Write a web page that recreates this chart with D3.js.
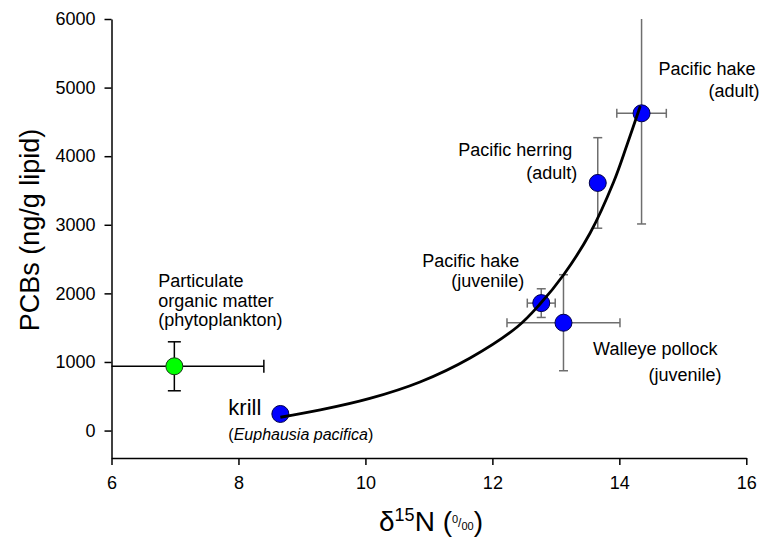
<!DOCTYPE html>
<html>
<head>
<meta charset="utf-8">
<script src="https://cdn.jsdelivr.net/npm/d3@7"></script>
<style>
  body { margin: 0; background: #fff; }
  svg { display: block; font-family: "Liberation Sans", Arial, sans-serif; }
</style>
</head>
<body>
<div id="chart"></div>
<script>
// d15N vs PCB data, one entry per group
const groups = ['POM', 'krill', 'hakeJuv', 'walleye', 'herring', 'hakeAdult'];
const d15N = [6.99, 8.66, 12.77, 13.12, 13.66, 14.35];
const pcbs = [937, 242, 1858, 1572, 3610, 4625];
const d15NErr = [1.41, 0, 0.22, 0.89, 0, 0.39];
const pcbsErr = [357, 0, 209, 700, 660, 1613];

// fitted curve
const fitX = [8.66, 9.29, 10.07, 10.86, 11.65, 12.39, 12.75, 13.12, 13.54, 13.91, 14.12, 14.33];
const fitY = [194, 300, 468, 708, 1058, 1510, 1845, 2268, 2880, 3624, 4163, 4732];

const xTicks = [6, 8, 10, 12, 14, 16];
const yTicks = [0, 1000, 2000, 3000, 4000, 5000, 6000];

const W = 772, H = 537;
const svg = d3.select('#chart').append('svg')
  .attr('width', W)
  .attr('height', H);

const x = d3.scaleLinear().domain([6, 16]).range([111.5, 746.3]);
const y = d3.scaleLinear().domain([-400, 6000]).range([458, 19]);

// Axes
const xAxis = svg.append('g')
  .attr('transform', `translate(0,${y.range()[0]})`)
  .call(d3.axisBottom(x).tickValues(xTicks).tickFormat(d3.format('d')).tickSize(7).tickSizeOuter(0).tickPadding(11));

const yAxis = svg.append('g')
  .attr('transform', `translate(${x.range()[0]},0)`)
  .call(d3.axisLeft(y).tickValues(yTicks).tickFormat(d3.format('d')).tickSize(7).tickSizeOuter(0).tickPadding(9));

[xAxis, yAxis].forEach(g => {
  g.select('.domain').attr('stroke', '#000').attr('stroke-width', 1.5);
  g.selectAll('.tick line').attr('stroke', '#000').attr('stroke-width', 1.5);
  g.selectAll('.tick text')
    .attr('fill', '#000')
    .style('font-size', '18px')
    .style('font-family', '"Liberation Sans", Arial, sans-serif');
});

// Axis titles
svg.append('text')
  .attr('transform', 'translate(39,230) rotate(-90)')
  .attr('text-anchor', 'middle')
  .style('font-size', '27px')
  .text('PCBs (ng/g lipid)');

const xt = svg.append('text')
  .attr('x', 379)
  .attr('y', 531)
  .style('font-size', '28px');
xt.append('tspan').text('\u03B4');
xt.append('tspan').attr('dy', -10).style('font-size', '18px').text('15');
xt.append('tspan').attr('dy', 10).text('N (');
xt.append('tspan').attr('dy', -8).style('font-size', '11px').text('0');
xt.append('tspan').attr('dy', 4).style('font-size', '12px').text('/');
xt.append('tspan').attr('dy', 3).style('font-size', '11px').text('00');
xt.append('tspan').attr('dy', 1).text(')');

// Error bars
const xmin = x.domain()[0], ymax = y.domain()[1];
const bars = svg.append('g');
groups.forEach((g, i) => {
  const col = i === 0 ? '#000' : '#6e6e6e';
  const cap = i === 0 ? 6.5 : 4.5;
  const px = x(d15N[i]), py = y(pcbs[i]);
  if (pcbsErr[i] > 0) {
    const top = Math.min(pcbs[i] + pcbsErr[i], ymax);
    const bot = pcbs[i] - pcbsErr[i];
    bars.append('line').attr('x1', px).attr('x2', px).attr('y1', y(top)).attr('y2', y(bot))
      .attr('stroke', col).attr('stroke-width', 1.5);
    if (pcbs[i] + pcbsErr[i] <= ymax) {
      bars.append('line').attr('x1', px - cap).attr('x2', px + cap).attr('y1', y(top)).attr('y2', y(top))
        .attr('stroke', col).attr('stroke-width', 1.5);
    }
    bars.append('line').attr('x1', px - cap).attr('x2', px + cap).attr('y1', y(bot)).attr('y2', y(bot))
      .attr('stroke', col).attr('stroke-width', 1.5);
  }
  if (d15NErr[i] > 0) {
    const lo = Math.max(d15N[i] - d15NErr[i], xmin);
    const hi = d15N[i] + d15NErr[i];
    bars.append('line').attr('x1', x(lo)).attr('x2', x(hi)).attr('y1', py).attr('y2', py)
      .attr('stroke', col).attr('stroke-width', 1.5);
    if (d15N[i] - d15NErr[i] >= xmin) {
      bars.append('line').attr('x1', x(lo)).attr('x2', x(lo)).attr('y1', py - cap).attr('y2', py + cap)
        .attr('stroke', col).attr('stroke-width', 1.5);
    }
    bars.append('line').attr('x1', x(hi)).attr('x2', x(hi)).attr('y1', py - cap).attr('y2', py + cap)
      .attr('stroke', col).attr('stroke-width', 1.5);
  }
});

// Markers
svg.append('g').selectAll('circle')
  .data(groups)
  .enter()
  .append('circle')
  .attr('cx', (_, i) => x(d15N[i]))
  .attr('cy', (_, i) => y(pcbs[i]))
  .attr('r', 8.5)
  .attr('fill', (_, i) => i === 0 ? '#00ff00' : '#0000ff')
  .attr('stroke', (_, i) => i === 0 ? '#1a3a1a' : '#00004a')
  .attr('stroke-width', 1);

// Fit curve
const line = d3.line()
  .x(d => x(d[0]))
  .y(d => y(d[1]))
  .curve(d3.curveCatmullRom.alpha(0.5));
svg.append('path')
  .datum(fitX.map((v, i) => [v, fitY[i]]))
  .attr('d', line)
  .attr('fill', 'none')
  .attr('stroke', '#000')
  .attr('stroke-width', 2.8);

// Labels (offsets from each marker in px)
const labelText = {
  POM: ['Particulate', 'organic matter', '(phytoplankton)'],
  hakeJuv: ['Pacific hake', '(juvenile)'],
  walleye: ['Walleye pollock', '(juvenile)'],
  herring: ['Pacific herring', '(adult)'],
  hakeAdult: ['Pacific hake', '(adult)']
};
const labelPos = {
  POM: { anchor: 'start', off: [[-16, -79], [-16, -59], [-16, -40]] },
  hakeJuv: { anchor: 'end', off: [[-22, -36], [-17, -16]] },
  walleye: { anchor: 'end', off: [[154, 32], [158, 58]] },
  herring: { anchor: 'end', off: [[-25.5, -27], [-20.5, -4]] },
  hakeAdult: { anchor: 'end', off: [[114, -38], [118, -16]] }
};
Object.keys(labelText).forEach(k => {
  const i = groups.indexOf(k);
  const px = x(d15N[i]), py = y(pcbs[i]);
  labelText[k].forEach((t, j) => {
    svg.append('text')
      .attr('x', px + labelPos[k].off[j][0])
      .attr('y', py + labelPos[k].off[j][1])
      .attr('text-anchor', labelPos[k].anchor)
      .style('font-size', '18px')
      .text(t);
  });
});

// krill label
const ki = groups.indexOf('krill');
const kx = x(d15N[ki]), ky = y(pcbs[ki]);
svg.append('text')
  .attr('x', kx - 52)
  .attr('y', ky + 1)
  .style('font-size', '22px')
  .text('krill');
const sp = svg.append('text')
  .attr('x', kx - 52)
  .attr('y', ky + 26)
  .style('font-size', '16px');
sp.append('tspan').text('(');
sp.append('tspan').style('font-style', 'italic').text('Euphausia pacifica');
sp.append('tspan').text(')');
</script>
</body>
</html>
